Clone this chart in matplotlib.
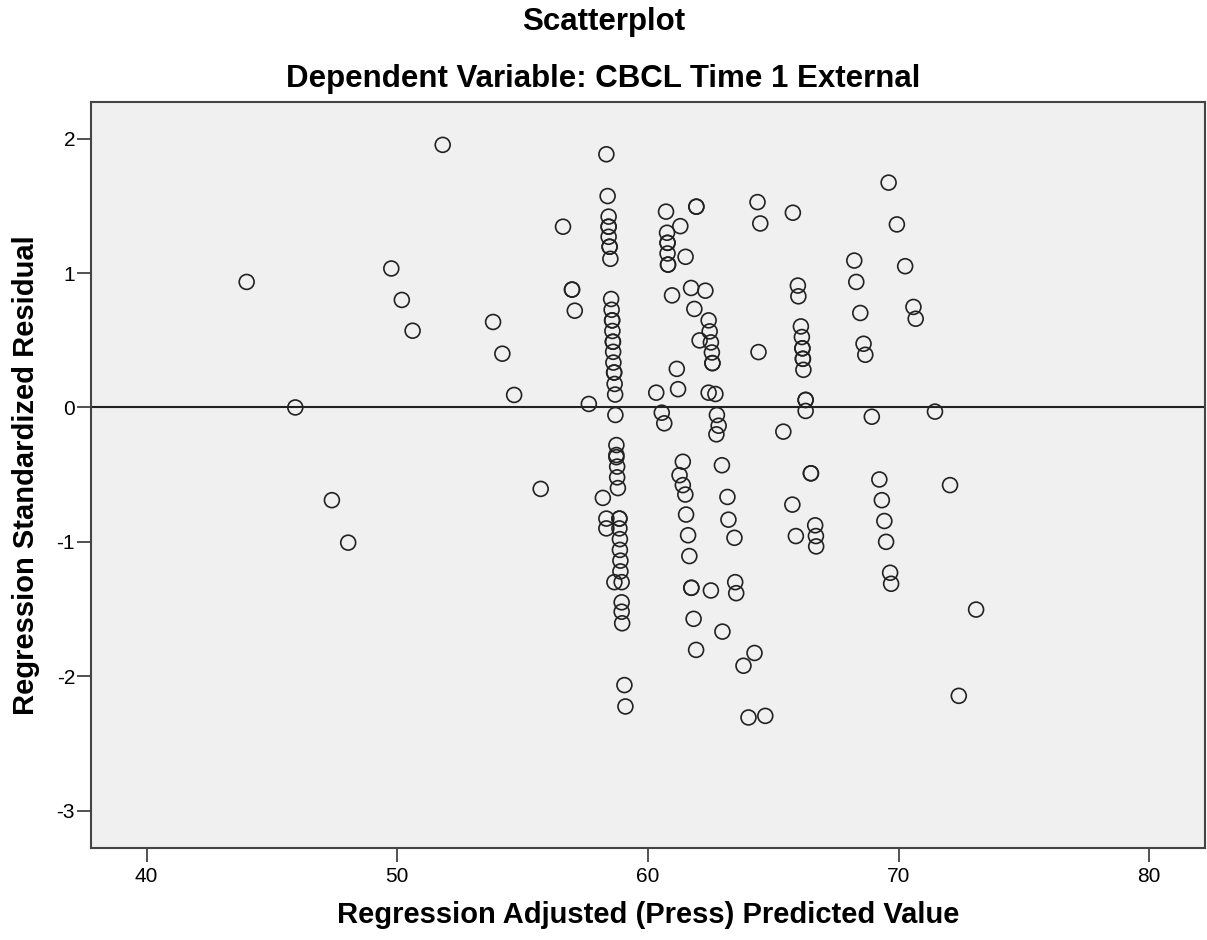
import matplotlib.pyplot as plt

plt.rcParams['font.family'] = ['Liberation Sans', 'DejaVu Sans']
plt.rcParams['axes.unicode_minus'] = False

# predicted values (x) and standardized residuals (y)
x_vals = [43.99, 51.81, 49.76, 50.18, 50.61, 45.93, 47.39, 48.04, 53.82, 54.19,
          54.66, 55.72, 56.61, 56.97, 56.97, 57.08, 57.64,
          58.34, 58.39, 58.43, 58.43, 58.43, 58.43, 58.47, 58.47, 58.50,
          58.53, 58.55, 58.57, 58.57, 58.58, 58.60, 58.60, 58.61, 58.62, 58.65,
          58.65, 58.67, 58.69, 58.70,
          58.74, 58.74, 58.74, 58.77, 58.77, 58.80, 58.20, 58.34, 58.34, 58.86,
          58.86, 58.86, 58.88, 58.88, 58.90, 58.90, 58.66, 58.95, 58.95, 58.95,
          58.97, 59.06, 59.10,
          60.72, 61.93, 61.93, 61.29, 60.76, 60.78, 60.78, 60.78, 60.80, 60.80,
          61.50, 60.96, 61.72, 62.29, 61.85, 62.42, 62.46, 62.06, 62.51, 62.55,
          62.57, 62.57, 61.15, 61.20, 60.33, 62.42, 62.69, 60.55, 60.65, 62.75,
          62.82, 62.73, 62.95, 61.39, 61.26, 61.39, 61.49, 61.52, 61.60, 61.65,
          61.73, 61.73, 62.51, 61.82, 61.92, 63.17, 63.21, 63.45, 63.48, 63.52,
          62.97, 64.25, 63.81, 64.01, 64.68,
          64.37, 64.48, 65.78, 65.98, 66.00, 64.41, 66.10, 66.14, 66.16, 66.16,
          66.18, 66.18, 66.20, 66.29, 66.29, 66.29, 65.40, 66.50, 66.50, 65.76,
          65.90, 66.67, 66.70, 66.71,
          69.60, 69.93, 70.26, 68.23, 68.31, 68.47, 68.60, 68.67, 70.59, 70.68,
          68.93, 71.45, 69.23, 69.33, 69.43, 69.50, 69.66, 69.70, 72.05, 73.09,
          72.40]
y_vals = [0.934, 1.954, 1.034, 0.800, 0.571, 0.000, -0.690, -1.006, 0.636, 0.400,
          0.093, -0.606, 1.345, 0.877, 0.877, 0.720, 0.026,
          1.884, 1.573, 1.420, 1.345, 1.345, 1.270, 1.196, 1.196, 1.106,
          0.807, 0.727, 0.648, 0.648, 0.569, 0.489, 0.489, 0.414, 0.334, 0.260,
          0.260, 0.175, 0.096, -0.056,
          -0.280, -0.354, -0.370, -0.440, -0.520, -0.600, -0.673, -0.827, -0.900, -0.827,
          -0.827, -0.900, -0.980, -1.060, -1.140, -1.220, -1.300, -1.300, -1.450, -1.520,
          -1.606, -2.066, -2.225,
          1.457, 1.494, 1.494, 1.349, 1.300, 1.225, 1.225, 1.146, 1.063, 1.063,
          1.121, 0.834, 0.889, 0.869, 0.733, 0.648, 0.566, 0.499, 0.484, 0.409,
          0.330, 0.330, 0.287, 0.136, 0.110, 0.110, 0.100, -0.039, -0.118, -0.056,
          -0.136, -0.200, -0.430, -0.404, -0.504, -0.578, -0.648, -0.797, -0.951, -1.106,
          -1.342, -1.342, -1.362, -1.573, -1.804, -0.666, -0.835, -0.970, -1.300, -1.382,
          -1.668, -1.827, -1.922, -2.307, -2.295,
          1.528, 1.369, 1.449, 0.907, 0.827, 0.412, 0.603, 0.524, 0.440, 0.440,
          0.362, 0.362, 0.280, 0.056, 0.056, -0.026, -0.180, -0.490, -0.490, -0.723,
          -0.957, -0.877, -0.957, -1.034,
          1.673, 1.362, 1.051, 1.093, 0.934, 0.703, 0.474, 0.392, 0.748, 0.660,
          -0.069, -0.031, -0.536, -0.690, -0.845, -1.000, -1.230, -1.312, -0.578, -1.504,
          -2.146]

x_ticks = [40, 50, 60, 70, 80]
y_ticks = [-3, -2, -1, 0, 1, 2]

fig = plt.figure(figsize=(12.07, 9.4), dpi=100)
ax = fig.add_axes([0.0754, 0.0979, 0.9229, 0.7936])
ax.set_facecolor('#f0f0f0')

ax.axhline(0, color='#222222', lw=1.5, zorder=1)
ax.scatter(x_vals, y_vals, s=115, facecolors='none', edgecolors='#222222',
           linewidths=1.2, zorder=2)

ax.set_xlim(37.78, 82.22)
ax.set_ylim(-3.278, 2.273)
ax.set_xticks(x_ticks)
ax.set_yticks(y_ticks)
ax.tick_params(length=10, width=1.2, color='#333333', labelsize=15)
ax.tick_params(axis='x', pad=3.5)
ax.tick_params(axis='y', pad=1.5)
for s in ax.spines.values():
    s.set_color('#444444')
    s.set_linewidth(1.5)

fig.text(0.5, 0.968, 'Scatterplot', ha='center', va='baseline',
         fontsize=22.5, fontweight='bold')
fig.text(0.5, 0.9078, 'Dependent Variable: CBCL Time 1 External', ha='center',
         va='baseline', fontsize=22.5, fontweight='bold')
ax.set_xlabel('Regression Adjusted (Press) Predicted Value', fontsize=21,
              fontweight='bold', labelpad=11)
ax.set_ylabel('Regression Standardized Residual', fontsize=21,
              fontweight='bold', labelpad=12)

plt.savefig('out.png')
